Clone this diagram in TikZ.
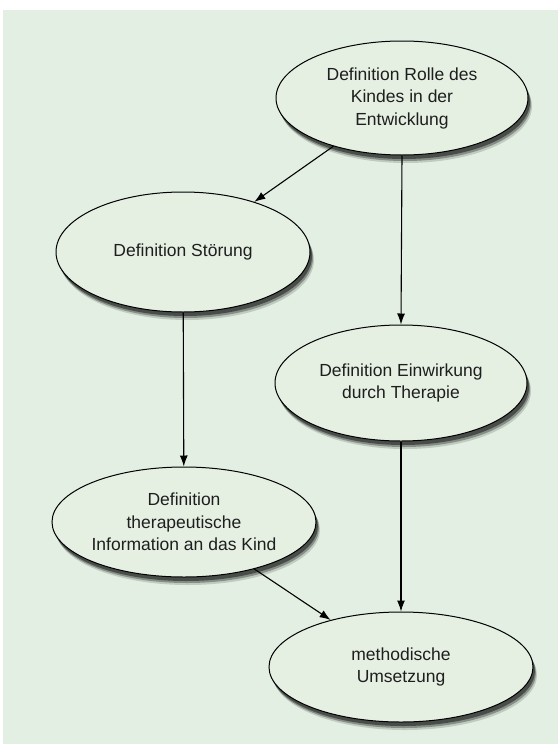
\documentclass[tikz,border=0pt]{standalone}
\usepackage{fontspec}
\setmainfont{Liberation Sans}
\usetikzlibrary{shapes.geometric,shadows,arrows.meta}
\definecolor{panelgreen}{RGB}{226,239,226}
\definecolor{bubblegreen}{RGB}{229,240,227}
\definecolor{textgray}{RGB}{30,30,30}
\begin{document}
\begin{tikzpicture}[x=1pt,y=-1pt,
    bubble/.style={ellipse, draw=black, line width=1pt, fill=bubblegreen, inner sep=0pt,
      align=center, text=textgray, font=\fontsize{17.5}{22.5}\selectfont,
      drop shadow={shadow xshift=4pt, shadow yshift=-8pt, opacity=0.15, fill=black},
      drop shadow={shadow xshift=3pt, shadow yshift=-6pt, opacity=0.3, fill=black},
      drop shadow={shadow xshift=2pt, shadow yshift=-4pt, opacity=0.45, fill=black}},
    link/.style={-{Latex[length=11pt,width=8pt]}, line width=1.1pt}]
      \useasboundingbox (0,0) rectangle (558,744);
      \fill[white] (0,0) rectangle (558,744);
      \fill[panelgreen] (3,10) rectangle (558,744);

      \node[bubble, minimum width=252pt, minimum height=114pt] (rolle) at (402,98)
        {Definition Rolle des\\Kindes in der\\Entwicklung};
      \node[bubble, minimum width=254pt, minimum height=120pt] (stoerung) at (183,252)
        {Definition Störung};
      \node[bubble, minimum width=252pt, minimum height=116pt] (einwirkung) at (401,383)
        {Definition Einwirkung\\durch Therapie};
      \node[bubble, minimum width=264pt, minimum height=110pt] (info) at (184,522)
        {Definition\\therapeutische\\Information an das Kind};
      \node[bubble, minimum width=264pt, minimum height=110pt] (umsetzung) at (401,667)
        {methodische\\Umsetzung};

      \draw[link] (rolle) -- (stoerung);
      \draw[link] (rolle.south) -- (einwirkung.north);
      \draw[link] (stoerung) -- (info);
      \draw[link] (einwirkung.south) -- (umsetzung.north);
      \draw[link] (info) -- (umsetzung);
    \end{tikzpicture}
\end{document}
